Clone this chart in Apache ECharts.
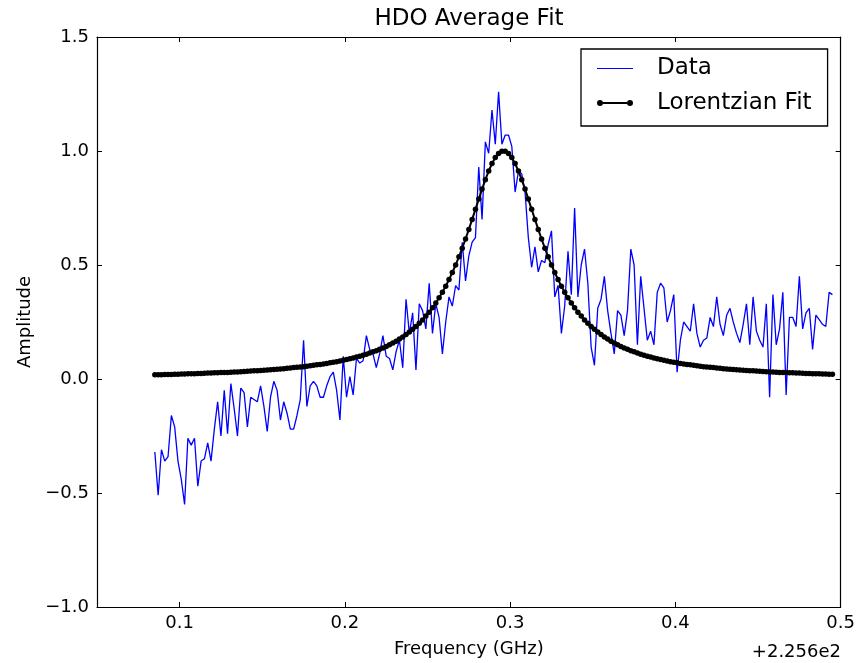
<!DOCTYPE html>
<html><head><meta charset="utf-8">
<script src="https://cdn.jsdelivr.net/npm/echarts@6/dist/echarts.min.js"></script>
<style>html,body{margin:0;padding:0;background:#fff}#c{width:858px;height:663px}</style>
</head><body><div id="c"></div>
<script>
const chartTitle = 'HDO Average Fit';
const xName = 'Frequency (GHz)';
const yName = 'Amplitude';
const offsetText = '+2.256e2';
const seriesNames = ['Data', 'Lorentzian Fit'];
const xTicks = [0.1, 0.2, 0.3, 0.4, 0.5];
const yTicks = [-1.0, -0.5, 0.0, 0.5, 1.0, 1.5];

// frequency relative to offset 225.6 GHz
const freq = [
0.085,0.087,0.089,0.091,0.093,0.095,0.097,0.099,0.101,0.103,
0.105,0.107,0.109,0.111,0.113,0.115,0.117,0.119,0.121,0.123,
0.125,0.127,0.129,0.131,0.133,0.135,0.137,0.139,0.141,0.143,
0.145,0.147,0.149,0.151,0.153,0.155,0.157,0.159,0.161,0.163,
0.165,0.167,0.169,0.171,0.173,0.175,0.177,0.179,0.181,0.183,
0.185,0.187,0.189,0.191,0.193,0.195,0.197,0.199,0.201,0.203,
0.205,0.207,0.209,0.211,0.213,0.215,0.217,0.219,0.221,0.223,
0.225,0.227,0.229,0.231,0.233,0.235,0.237,0.239,0.241,0.243,
0.245,0.247,0.249,0.251,0.253,0.255,0.257,0.259,0.261,0.263,
0.265,0.267,0.269,0.271,0.273,0.275,0.277,0.279,0.281,0.283,
0.285,0.287,0.289,0.291,0.293,0.295,0.297,0.299,0.301,0.303,
0.305,0.307,0.309,0.311,0.313,0.315,0.317,0.319,0.321,0.323,
0.325,0.327,0.329,0.331,0.333,0.335,0.337,0.339,0.341,0.343,
0.345,0.347,0.349,0.351,0.353,0.355,0.357,0.359,0.361,0.363,
0.365,0.367,0.369,0.371,0.373,0.375,0.377,0.379,0.381,0.383,
0.385,0.387,0.389,0.391,0.393,0.395,0.397,0.399,0.401,0.403,
0.405,0.407,0.409,0.411,0.413,0.415,0.417,0.419,0.421,0.423,
0.425,0.427,0.429,0.431,0.433,0.435,0.437,0.439,0.441,0.443,
0.445,0.447,0.449,0.451,0.453,0.455,0.457,0.459,0.461,0.463,
0.465,0.467,0.469,0.471,0.473,0.475,0.477,0.479,0.481,0.483,
0.485,0.487,0.489,0.491,0.493,0.495
];

const dataAmp = [
-0.32,-0.51,-0.31,-0.36,-0.34,-0.16,-0.21,-0.36,-0.44,-0.55,
-0.26,-0.29,-0.26,-0.47,-0.36,-0.35,-0.28,-0.36,-0.22,-0.10,
-0.25,-0.05,-0.24,-0.02,-0.13,-0.25,-0.04,-0.06,-0.21,-0.08,
-0.09,-0.10,-0.03,-0.12,-0.23,-0.08,-0.01,-0.05,-0.18,-0.10,
-0.15,-0.22,-0.22,-0.16,-0.09,0.17,-0.12,-0.03,-0.01,-0.03,
-0.08,-0.08,-0.03,0.01,0.03,-0.05,-0.18,0.10,-0.08,0.01,
-0.07,0.09,0.07,0.08,0.19,0.13,0.11,0.05,0.11,0.19,
0.10,0.09,0.04,0.12,0.17,0.05,0.35,0.20,0.29,0.04,
0.33,0.30,0.22,0.42,0.20,0.33,0.27,0.11,0.25,0.36,
0.32,0.41,0.39,0.60,0.43,0.54,0.60,0.62,0.93,0.70,
1.04,0.99,1.18,1.03,1.26,1.03,1.07,1.07,1.02,0.82,
0.91,0.90,0.82,0.62,0.49,0.58,0.47,0.52,0.51,0.59,
0.65,0.36,0.41,0.20,0.32,0.56,0.37,0.75,0.36,0.50,
0.57,0.42,0.14,0.06,0.31,0.35,0.45,0.30,0.20,0.11,
0.30,0.28,0.19,0.30,0.57,0.50,0.15,0.45,0.31,0.17,
0.21,0.15,0.38,0.42,0.40,0.25,0.30,0.37,0.03,0.17,
0.25,0.23,0.21,0.33,0.20,0.14,0.17,0.18,0.27,0.23,
0.36,0.24,0.19,0.28,0.31,0.25,0.20,0.16,0.24,0.33,
0.15,0.36,0.21,0.17,0.14,0.33,-0.08,0.37,0.15,0.22,
0.38,-0.07,0.27,0.27,0.23,0.45,0.22,0.29,0.31,0.13,
0.28,0.26,0.24,0.23,0.38,0.37
];

const fitAmp = [
0.019,0.019,0.019,0.020,0.020,0.020,0.021,0.021,0.022,0.022,
0.023,0.023,0.023,0.024,0.024,0.025,0.026,0.026,0.027,0.027,
0.028,0.029,0.029,0.030,0.031,0.031,0.032,0.033,0.034,0.035,
0.036,0.036,0.037,0.038,0.040,0.041,0.042,0.043,0.044,0.045,
0.047,0.048,0.050,0.051,0.053,0.054,0.056,0.058,0.060,0.062,
0.064,0.066,0.068,0.071,0.073,0.076,0.079,0.082,0.085,0.089,
0.092,0.096,0.100,0.104,0.109,0.114,0.119,0.124,0.130,0.136,
0.143,0.150,0.158,0.166,0.175,0.184,0.195,0.206,0.218,0.230,
0.244,0.259,0.276,0.293,0.313,0.333,0.356,0.381,0.407,0.436,
0.467,0.500,0.536,0.574,0.614,0.656,0.700,0.744,0.789,0.833,
0.874,0.912,0.945,0.971,0.989,0.999,
0.999,0.989,0.971,0.945,0.912,0.874,0.833,0.789,0.744,0.700,
0.656,0.614,0.574,0.536,0.500,0.467,0.436,0.407,0.381,0.356,
0.333,0.313,0.293,0.276,0.259,0.244,0.230,0.218,0.206,0.195,
0.184,0.175,0.166,0.158,0.150,0.143,0.136,0.130,0.124,0.119,
0.114,0.109,0.104,0.100,0.096,0.092,0.089,0.085,0.082,0.079,
0.076,0.073,0.071,0.068,0.066,0.064,0.062,0.060,0.058,0.056,
0.054,0.053,0.051,0.050,0.048,0.047,0.045,0.044,0.043,0.042,
0.041,0.040,0.038,0.037,0.036,0.036,0.035,0.034,0.033,0.032,
0.031,0.031,0.030,0.029,0.029,0.028,0.027,0.027,0.026,0.026,
0.025,0.024,0.024,0.023,0.023,0.023,0.022,0.022,0.021,0.021
];

const FONT = 'DejaVu Sans';
const fmtY = v => v.toFixed(1).replace('-', '\u2212');
const fmtX = v => v.toFixed(1);

// legend icons (bounding box 36x6)
const dataIcon = 'path://M0,0M36,6M0,2.4h36v1.2h-36z';
const fitIcon = 'path://M0,3a3,3 0 1,1 6,0a3,3 0 1,1 -6,0z M30,3a3,3 0 1,1 6,0a3,3 0 1,1 -6,0z M6,2.1h24v1.8h-24z';

const axisCommon = {
  axisLine: {show: true, onZero: false, lineStyle: {color: '#000', width: 1.2}},
  splitLine: {show: false},
  axisTick: {show: true, inside: true, length: 5, lineStyle: {color: '#000', width: 1}}
};

const chart = echarts.init(document.getElementById('c'), null, {renderer: 'canvas'});
chart.setOption({
  animation: false,
  backgroundColor: '#fff',
  title: {
    text: chartTitle, left: 469, top: 8, textAlign: 'center', padding: 0,
    textStyle: {fontFamily: FONT, fontSize: 23, fontWeight: 'normal', color: '#000'}
  },
  grid: {left: 97, right: 17, top: 37, bottom: 50, containLabel: false},
  legend: {
    orient: 'vertical', left: 581, top: 49,
    padding: [8, 16, 11.5, 16],
    borderColor: '#000', borderWidth: 1.3, borderRadius: 0, backgroundColor: '#fff',
    itemWidth: 36, itemHeight: 6, itemGap: 11.5,
    textStyle: {fontFamily: FONT, fontSize: 23, color: '#000', lineHeight: 23, padding: [0, 0, 0, 19]},
    data: [
      {name: seriesNames[0], icon: dataIcon, itemStyle: {color: '#0000ff', borderWidth: 0}},
      {name: seriesNames[1], icon: fitIcon, itemStyle: {color: '#000', borderWidth: 0}}
    ]
  },
  xAxis: [
    Object.assign({}, axisCommon, {
      type: 'value', position: 'bottom', min: 0.05, max: 0.5,
      name: xName, nameLocation: 'middle', nameGap: 33,
      nameTextStyle: {fontFamily: FONT, fontSize: 18, color: '#000'},
      axisTick: Object.assign({}, axisCommon.axisTick, {customValues: xTicks}),
      axisLabel: {customValues: xTicks, formatter: fmtX, fontFamily: FONT, fontSize: 18, color: '#000', margin: 7}
    }),
    Object.assign({}, axisCommon, {
      type: 'value', position: 'top', min: 0.05, max: 0.5,
      axisTick: Object.assign({}, axisCommon.axisTick, {customValues: xTicks}),
      axisLabel: {show: false}
    })
  ],
  yAxis: [
    Object.assign({}, axisCommon, {
      type: 'value', position: 'left', min: yTicks[0], max: yTicks[yTicks.length - 1], interval: 0.5,
      name: yName, nameLocation: 'middle', nameGap: 63, nameRotate: 90,
      nameTextStyle: {fontFamily: FONT, fontSize: 18, color: '#000'},
      axisLabel: {formatter: fmtY, fontFamily: FONT, fontSize: 18, color: '#000', margin: 8}
    }),
    Object.assign({}, axisCommon, {
      type: 'value', position: 'right', min: yTicks[0], max: yTicks[yTicks.length - 1], interval: 0.5,
      axisLabel: {show: false}
    })
  ],
  graphic: [{
    type: 'text', right: 17, top: 643,
    style: {text: offsetText, font: '18px "DejaVu Sans"', fill: '#000'}
  }],
  series: [
    {
      name: seriesNames[0], type: 'line', xAxisIndex: 0, yAxisIndex: 0,
      data: freq.map((f, i) => [f, dataAmp[i]]),
      showSymbol: false, symbol: 'none',
      lineStyle: {color: '#0000ff', width: 1.3}, itemStyle: {color: '#0000ff'},
      z: 2
    },
    {
      name: seriesNames[1], type: 'line', xAxisIndex: 0, yAxisIndex: 0,
      data: freq.map((f, i) => [f, fitAmp[i]]),
      symbol: 'circle', symbolSize: 5.5, showAllSymbol: true,
      lineStyle: {color: '#000', width: 2}, itemStyle: {color: '#000', borderWidth: 0},
      z: 3
    }
  ]
});
</script>
</body></html>
